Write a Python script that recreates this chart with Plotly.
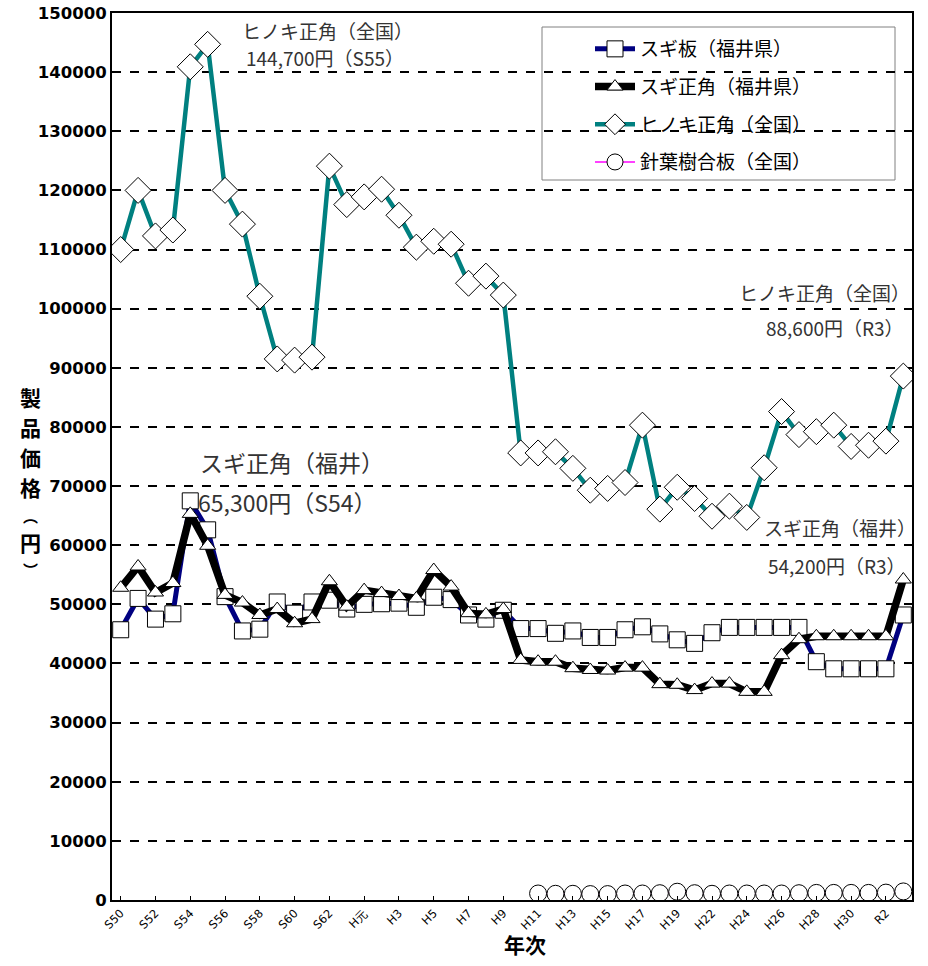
import plotly.graph_objects as go

categories = ["S50", "S51", "S52", "S53", "S54", "S55", "S56", "S57", "S58", "S59",
              "S60", "S61", "S62", "S63", "H元", "H2", "H3", "H4", "H5", "H6",
              "H7", "H8", "H9", "H10", "H11", "H12", "H13", "H14", "H15", "H16",
              "H17", "H18", "H19", "H20", "H22", "H23", "H24", "H25", "H26", "H27",
              "H28", "H29", "H30", "R元", "R2", "R3"]

tick_labels = ["S50", "S52", "S54", "S56", "S58", "S60", "S62", "H元", "H3", "H5", "H7",
               "H9", "H11", "H13", "H15", "H17", "H19", "H22", "H24", "H26", "H28",
               "H30", "R2"]

sugi_board = [45700, 51000, 47500, 48400, 67500, 62600, 51300, 45500, 45800, 50400,
              48500, 50400, 50700, 49200, 50000, 50100, 50200, 49500, 51200, 50800,
              48200, 47500, 49000, 45900, 45900, 45100, 45500, 44400, 44400, 45700,
              46200, 45000, 44000, 43400, 45200, 46100, 46100, 46100, 46100, 46100,
              40300, 39100, 39100, 39100, 39100, 48200]

sugi_square = [52800, 56400, 52000, 53600, 65300, 59900, 51600, 50300, 48200, 49200,
               46800, 47500, 53900, 49600, 52400, 51900, 51400, 51000, 55800, 53000,
               48500, 48300, 49200, 40600, 40300, 40300, 39200, 38900, 38800, 39300,
               39300, 36500, 36400, 35500, 36600, 36600, 35200, 35200, 41400, 44100,
               44600, 44600, 44600, 44600, 44600, 54200]

hinoki_square = [110000, 120000, 112300, 113300, 140900, 144700, 120000, 114300, 102100, 91500,
                 91300, 91800, 124100, 117600, 118900, 120200, 115800, 110400, 111400, 110900,
                 104300, 105500, 102300, 75600, 75600, 75800, 73000, 69300, 69600, 70600,
                 80300, 66100, 69800, 67900, 64900, 66600, 64700, 73100, 82600, 78700,
                 79200, 80300, 76700, 76900, 77600, 88600]

plywood = [None] * 24 + [1100, 1050, 1050, 1000, 1000, 1100, 1100, 1150, 1400, 1150,
                         1050, 1100, 1100, 1100, 1100, 1150, 1200, 1200, 1200, 1200,
                         1250, 1450]

series_names = ["スギ板（福井県）", "スギ正角（福井県）", "ヒノキ正角（全国）", "針葉樹合板（全国）"]
y_title_chars = ["製", "品", "価", "格", "︵", "円", "︶"]

JP = "Noto Sans CJK JP"

fig = go.Figure()

fig.add_trace(go.Scatter(
    x=categories, y=sugi_board, name=series_names[0], mode="lines+markers",
    line=dict(color="#000080", width=5),
    marker=dict(symbol="square", size=16, color="white", line=dict(color="black", width=1)),
    legendgroup="a"))
fig.add_trace(go.Scatter(
    x=categories, y=sugi_square, name=series_names[1], mode="lines+markers",
    line=dict(color="black", width=7.5),
    marker=dict(symbol="triangle-up", size=14, color="white", line=dict(color="black", width=1)),
    legendgroup="b"))
fig.add_trace(go.Scatter(
    x=categories, y=hinoki_square, name=series_names[2], mode="lines+markers",
    line=dict(color="#008080", width=4.5),
    marker=dict(symbol="diamond", size=20, color="white", line=dict(color="black", width=1)),
    legendgroup="c"))
fig.add_trace(go.Scatter(
    x=categories, y=plywood, name=series_names[3], mode="lines+markers",
    line=dict(color="#FF00FF", width=1.5),
    marker=dict(symbol="circle", size=17, color="white", line=dict(color="black", width=1)),
    legendgroup="d"))

# plot area in page pixels (body margin removed by post_script)
PL, PR, PT, PB = 112, 912, 13, 900
W, H = 928, 966
L, R, T, B = PL, W - PR, PT, H - PB

def px(x):
    return (x - PL) / (PR - PL)

def py(y):
    return (PB - y) / (PB - PT)

ann_color = "#333333"
annotations = [
    dict(text="ヒノキ正角（全国）", x=px(327), y=py(30), size=19),
    dict(text="144,700円（S55）", x=px(325), y=py(58), size=19),
    dict(text="スギ正角（福井）", x=px(292), y=py(462), size=23),
    dict(text="65,300円（S54）", x=px(287), y=py(502), size=23),
    dict(text="ヒノキ正角（全国）", x=px(824), y=py(292), size=19),
    dict(text="88,600円（R3）", x=px(835), y=py(327), size=19),
    dict(text="スギ正角（福井）", x=px(840), y=py(527), size=19),
    dict(text="54,200円（R3）", x=px(837), y=py(565), size=19),
]
ann_list = []
for a in annotations:
    ann_list.append(dict(text=a["text"], x=a["x"], y=a["y"], xref="paper", yref="paper",
                         xanchor="center", yanchor="middle", showarrow=False,
                         font=dict(family=JP, size=a["size"], color=ann_color)))

y_title_pos = [397, 427, 457, 487, 515, 542, 569]
y_title_size = [21, 21, 21, 21, 15, 21, 15]
for ch, yy, sz in zip(y_title_chars, y_title_pos, y_title_size):
    ann_list.append(dict(text=ch, x=px(30), y=py(yy), xref="paper", yref="paper",
                         xanchor="center", yanchor="middle", showarrow=False,
                         font=dict(family=JP, size=sz, color="black", weight="bold")))
ann_list.append(dict(text="年次", x=px(525), y=py(944), xref="paper", yref="paper",
                     xanchor="center", yanchor="middle", showarrow=False,
                     font=dict(family=JP, size=21, color="black", weight="bold")))

fig.update_layout(
    width=W, height=H,
    margin=dict(l=L, r=R, t=T, b=B, autoexpand=False),
    paper_bgcolor="white", plot_bgcolor="white",
    showlegend=True,
    legend=dict(x=px(590), y=py(30), xanchor="left", yanchor="top",
                bgcolor="rgba(0,0,0,0)", borderwidth=0,
                font=dict(family=JP, size=19, color="black"),
                tracegroupgap=10, itemwidth=40),
    annotations=ann_list,
    shapes=[dict(type="rect", xref="paper", yref="paper",
                 x0=px(542), x1=px(895), y0=py(180), y1=py(27),
                 line=dict(color="#808080", width=1), fillcolor="white", layer="below")],
    xaxis=dict(
        type="category", categoryorder="array", categoryarray=categories,
        range=[-0.5, len(categories) - 0.5], automargin=False,
        tickmode="array", tickvals=tick_labels, ticktext=tick_labels,
        tickangle=-45, tickfont=dict(family="DejaVu Sans", size=11.5, color="black"),
        showgrid=False, showline=True, linecolor="black", linewidth=2, mirror=True,
        ticks="inside", ticklen=4, tickcolor="black", zeroline=False,
    ),
    yaxis=dict(
        range=[0, 150000], dtick=10000, tick0=0, tickformat="d", automargin=False,
        ticklabeloverflow="allow",
        tickfont=dict(family="DejaVu Sans", size=16.5, color="black", weight="bold"),
        showgrid=True, gridcolor="black", griddash="dash", gridwidth=1.5,
        showline=True, linecolor="black", linewidth=2, mirror=True,
        ticks="", zeroline=False,
    ),
)

fig.write_html("out.html", config={"displayModeBar": False},
               post_script="document.body.style.margin='0';")
